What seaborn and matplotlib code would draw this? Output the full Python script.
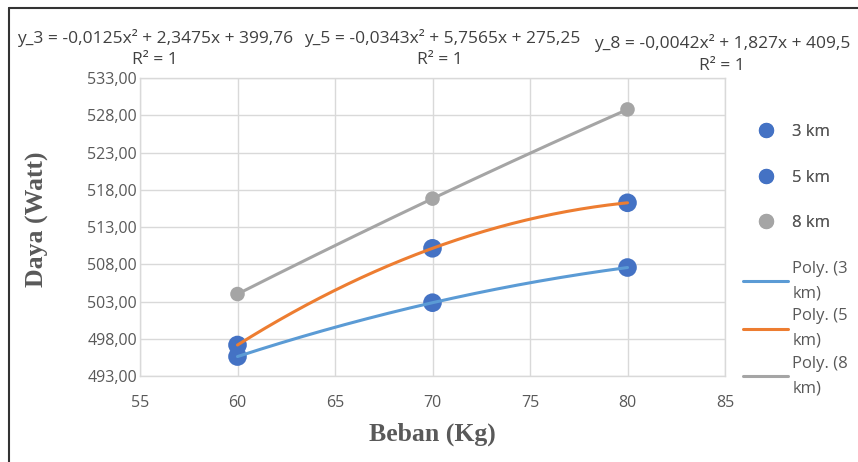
import numpy as np
import pandas as pd
import matplotlib
matplotlib.use("Agg")
import matplotlib.pyplot as plt
import seaborn as sns
from matplotlib.lines import Line2D
from matplotlib.ticker import FuncFormatter

# ---- data ----
beban = [60, 70, 80]
daya_3km = [495.61, 502.84, 507.56]
daya_5km = [497.16, 510.14, 516.25]
daya_8km = [504.00, 516.81, 528.78]
series_names = ["3 km", "5 km", "8 km"]
trend_names = ["Poly. (3\nkm)", "Poly. (5\nkm)", "Poly. (8\nkm)"]
equations = ["y_3 = -0,0125x² + 2,3475x + 399,76",
             "y_5 = -0,0343x² + 5,7565x + 275,25",
             "y_8 = -0,0042x² + 1,827x + 409,5"]
r2_texts = ["R² = 1", "R² = 1", "R² = 1"]
x_ticks = [55, 60, 65, 70, 75, 80, 85]
y_ticks = [493, 498, 503, 508, 513, 518, 523, 528, 533]

marker_colors = ["#4472C4", "#4472C4", "#A5A5A5"]
line_colors = ["#5B9BD5", "#ED7D31", "#A5A5A5"]
marker_sizes = [180, 180, 110]

sns.set_style("white")
sans = ["Open Sans", "DejaVu Sans"]
plt.rcParams["font.family"] = sans

fig = plt.figure(figsize=(8.58, 4.62), dpi=100)
ax = fig.add_axes([140 / 858, 1 - 376 / 462, 585 / 858, 298 / 462])

df = pd.DataFrame({
    "beban": beban * 3,
    "daya": daya_3km + daya_5km + daya_8km,
    "seri": sum([[s] * len(beban) for s in series_names], []),
})

# markers
for name, col, ms in zip(series_names, marker_colors, marker_sizes):
    sub = df[df["seri"] == name]
    sns.scatterplot(data=sub, x="beban", y="daya", color=col, s=ms,
                    edgecolor="none", ax=ax, zorder=3, legend=False)

# polynomial trendlines
xs = np.linspace(min(beban), max(beban), 200)
for name, col in zip(series_names, line_colors):
    sub = df[df["seri"] == name]
    coef = np.polyfit(sub["beban"], sub["daya"], 2)
    tr = pd.DataFrame({"x": xs, "y": np.polyval(coef, xs)})
    sns.lineplot(data=tr, x="x", y="y", color=col, lw=2.2, ax=ax, zorder=4)

ax.set_xlim(x_ticks[0], x_ticks[-1])
ax.set_ylim(y_ticks[0], y_ticks[-1])
ax.set_xticks(x_ticks)
ax.set_yticks(y_ticks)
ax.yaxis.set_major_formatter(FuncFormatter(lambda v, p: f"{v:.2f}".replace(".", ",")))
ax.tick_params(axis="both", length=0, labelsize=11.5, labelcolor="#595959")
ax.tick_params(axis="x", pad=14)
ax.tick_params(axis="y", pad=2)
ax.grid(True, color="#D9D9D9", lw=1)
for sp in ax.spines.values():
    sp.set_color("#D9D9D9")
    sp.set_linewidth(1)

ax.set_xlabel("Beban (Kg)", fontsize=18.5, fontweight="bold", color="#595959",
              family=["Liberation Serif", "DejaVu Serif"], labelpad=8)
ax.set_ylabel("Daya (Watt)", fontsize=18.5, fontweight="bold", color="#595959",
              family=["Liberation Serif", "DejaVu Serif"])
ax.yaxis.set_label_coords(-0.155, 0.525)

# equations
eq_pos = [(155, 38), (442, 38), (722, 43)]
r2_pos = [(155, 60), (440, 60), (722, 66)]
for txt, (px, py) in zip(equations, eq_pos):
    fig.text(px / 858, 1 - py / 462, txt, ha="center", va="center", fontsize=12.5,
             color="#404040")
for txt, (px, py) in zip(r2_texts, r2_pos):
    fig.text(px / 858, 1 - py / 462, txt, ha="center", va="center", fontsize=12.5,
             color="#404040")

# legends
mh = [Line2D([], [], ls="none", marker="o", markersize=11,
             markerfacecolor=c, markeredgecolor="none")
      for c in marker_colors]
lh = [Line2D([], [], color=c, lw=2.2) for c in line_colors]
leg1 = fig.legend(mh, series_names, loc="upper left",
                  bbox_to_anchor=(734 / 858, 1 - 109 / 462), frameon=False,
                  fontsize=12, labelcolor="#595959", labelspacing=1.78,
                  handletextpad=0.55, handlelength=2.0)
fig.add_artist(leg1)
leg2 = fig.legend(lh, trend_names, loc="upper left",
                  bbox_to_anchor=(728 / 858, 1 - 246 / 462), frameon=False,
                  fontsize=12, labelcolor="#595959", labelspacing=0.42,
                  handletextpad=0.25, handlelength=2.7)
for t in leg2.get_texts():
    t.set_linespacing(1.7)

# outer frame (top and left)
fig.add_artist(Line2D([9 / 858, 9 / 858], [0, 1 - 8 / 462], color="#333333", lw=1.5,
                      transform=fig.transFigure))
fig.add_artist(Line2D([9 / 858, 1], [1 - 8 / 462, 1 - 8 / 462], color="#333333", lw=1.5,
                      transform=fig.transFigure))

fig.savefig("out.png", dpi=100)
